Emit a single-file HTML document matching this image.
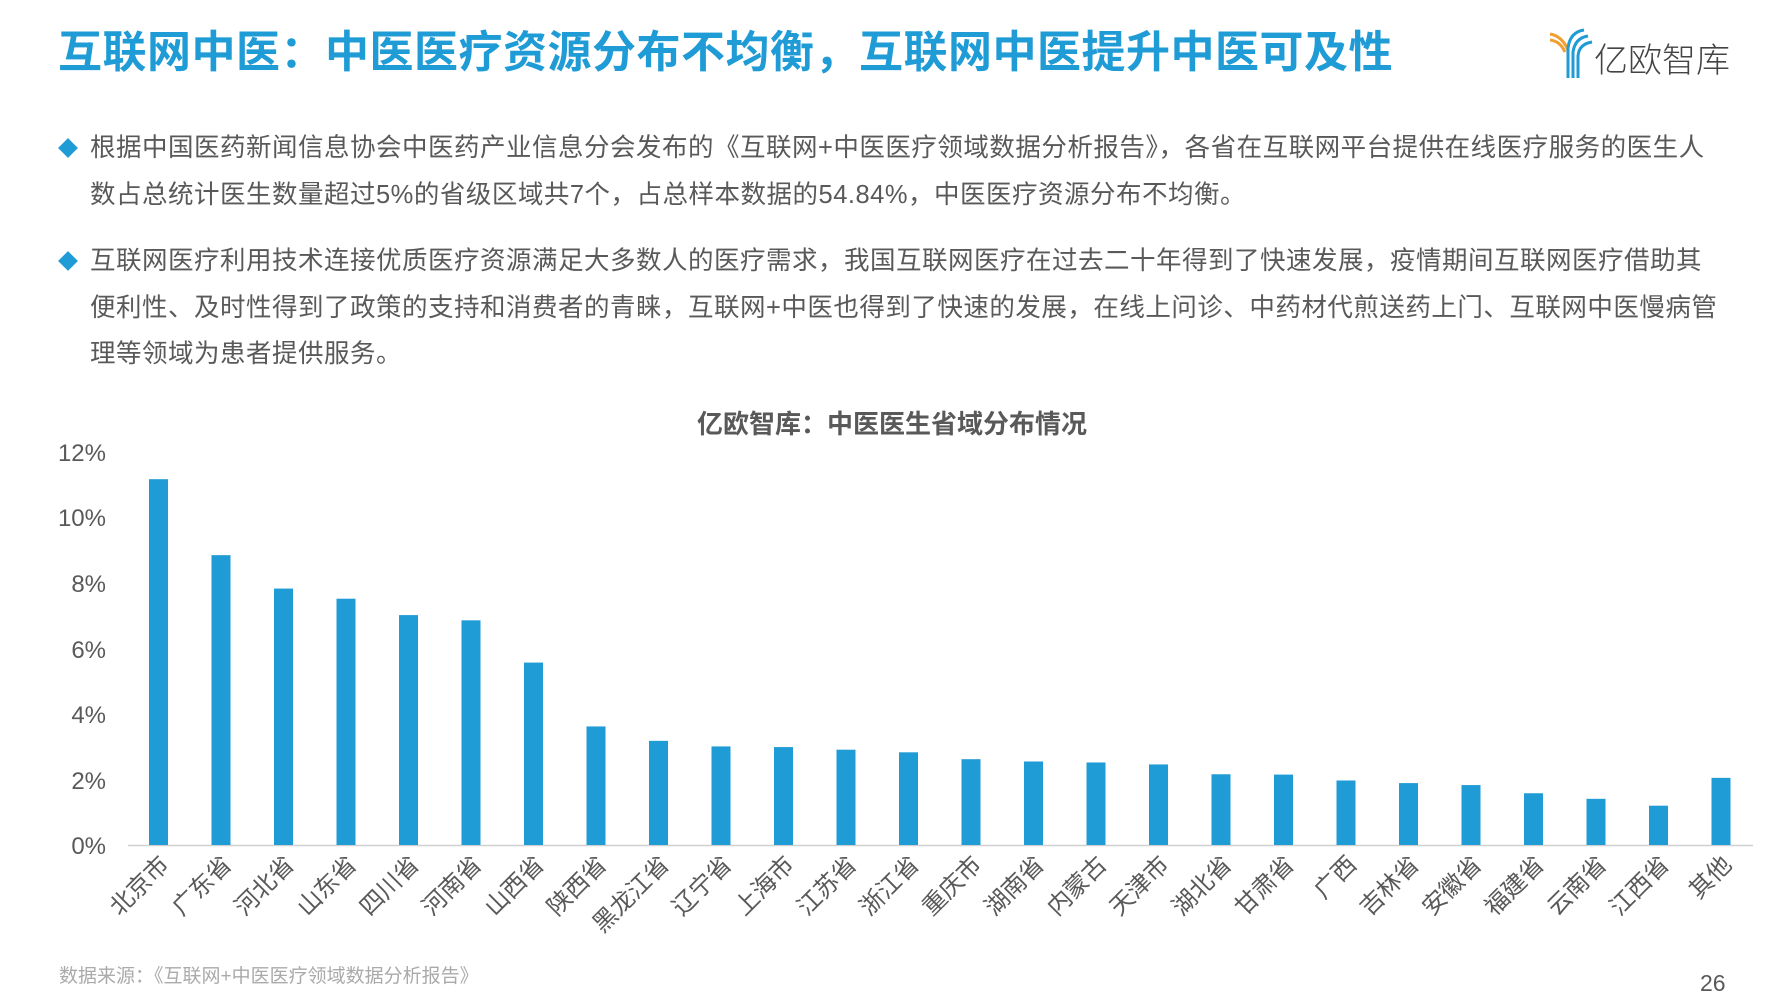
<!DOCTYPE html>
<html><head><meta charset="utf-8"><style>
body{margin:0;width:1778px;height:1000px;background:#fff;overflow:hidden;position:relative;font-family:"Liberation Sans","Noto Sans CJK SC",sans-serif;}
.t{position:absolute;left:58px;top:27px;font-size:44px;font-weight:bold;color:#1f9bd5;white-space:nowrap;line-height:52px;letter-spacing:0.5px}
.l{position:absolute;left:90px;font-size:25.5px;color:#595959;white-space:nowrap;line-height:32px;letter-spacing:0.5px}
.d{position:absolute;left:61px;width:14px;height:14px;background:#1f9bd5;transform:rotate(45deg)}
</style></head><body>
<div class="t">互联网中医：中医医疗资源分布不均衡，互联网中医提升中医可及性</div>
<svg style="position:absolute;left:1548px;top:28px" width="190" height="52">
<g fill="none" stroke-width="3">
<path d="M2 6 Q14 8 20 22" stroke="#f0a030"/><path d="M2 12 Q12 13 17 24" stroke="#f0a030"/>
<path d="M36 2 Q22 4 20 20 L20 50" stroke="#1f9bd5"/><path d="M40 8 Q27 10 25 24 L25 50" stroke="#1f9bd5"/><path d="M44 14 Q31 16 30 28 L30 50" stroke="#1f9bd5"/>
</g>
<text x="46" y="44" font-size="34" fill="#444" font-family="'Noto Sans CJK SC',sans-serif" font-weight="300">亿欧智库</text>
</svg>
<div class="d" style="top:141px"></div>
<div class="l" style="top:132px">根据中国医药新闻信息协会中医药产业信息分会发布的《互联网+中医医疗领域数据分析报告》，各省在互联网平台提供在线医疗服务的医生人</div>
<div class="l" style="top:179px">数占总统计医生数量超过5%的省级区域共7个，占总样本数据的54.84%，中医医疗资源分布不均衡。</div>
<div class="d" style="top:254px"></div>
<div class="l" style="top:245px">互联网医疗利用技术连接优质医疗资源满足大多数人的医疗需求，我国互联网医疗在过去二十年得到了快速发展，疫情期间互联网医疗借助其</div>
<div class="l" style="top:292px">便利性、及时性得到了政策的支持和消费者的青睐，互联网+中医也得到了快速的发展，在线上问诊、中药材代煎送药上门、互联网中医慢病管</div>
<div class="l" style="top:338px">理等领域为患者提供服务。</div>
<svg style="position:absolute;left:0;top:0" width="1778" height="1000" font-family="'Liberation Sans','Noto Sans CJK SC',sans-serif">
<text x="892" y="433" font-size="26" font-weight="bold" fill="#595959" text-anchor="middle">亿欧智库：中医医生省域分布情况</text>
<g font-size="24" fill="#595959" text-anchor="end">
<text x="106" y="461">12%</text><text x="106" y="526">10%</text><text x="106" y="592">8%</text><text x="106" y="658">6%</text><text x="106" y="723">4%</text><text x="106" y="789">2%</text><text x="106" y="854">0%</text>
</g>
<line x1="128" y1="845.5" x2="1753" y2="845.5" stroke="#d0d0d0" stroke-width="1.5"/>
<g id="bars" fill="#1f9bd5"></g>
<g id="labs" font-size="24" fill="#595959" text-anchor="end"></g>
<text x="59" y="982" font-size="19" fill="#aaa">数据来源：《互联网+中医医疗领域数据分析报告》</text>
<text x="1700" y="991" font-size="23" fill="#595959">26</text>
</svg>
<script>
var v=[11.17,8.85,7.83,7.52,7.02,6.86,5.57,3.62,3.18,3.01,2.99,2.91,2.83,2.62,2.55,2.52,2.46,2.16,2.15,1.97,1.89,1.83,1.58,1.41,1.2,2.05];
var n=["北京市","广东省","河北省","山东省","四川省","河南省","山西省","陕西省","黑龙江省","辽宁省","上海市","江苏省","浙江省","重庆市","湖南省","内蒙古","天津市","湖北省","甘肃省","广西","吉林省","安徽省","福建省","云南省","江西省","其他"];
var b="",l="";
for(var i=0;i<26;i++){var cx=158.5+62.5*i,h=v[i]*32.75;
b+='<rect x="'+(cx-9.5)+'" y="'+(845-h)+'" width="19" height="'+h+'"/>';
l+='<text transform="translate('+(cx+12)+',866) rotate(-45)">'+n[i]+'</text>';}
document.getElementById("bars").innerHTML=b;document.getElementById("labs").innerHTML=l;
</script>
</body></html>
